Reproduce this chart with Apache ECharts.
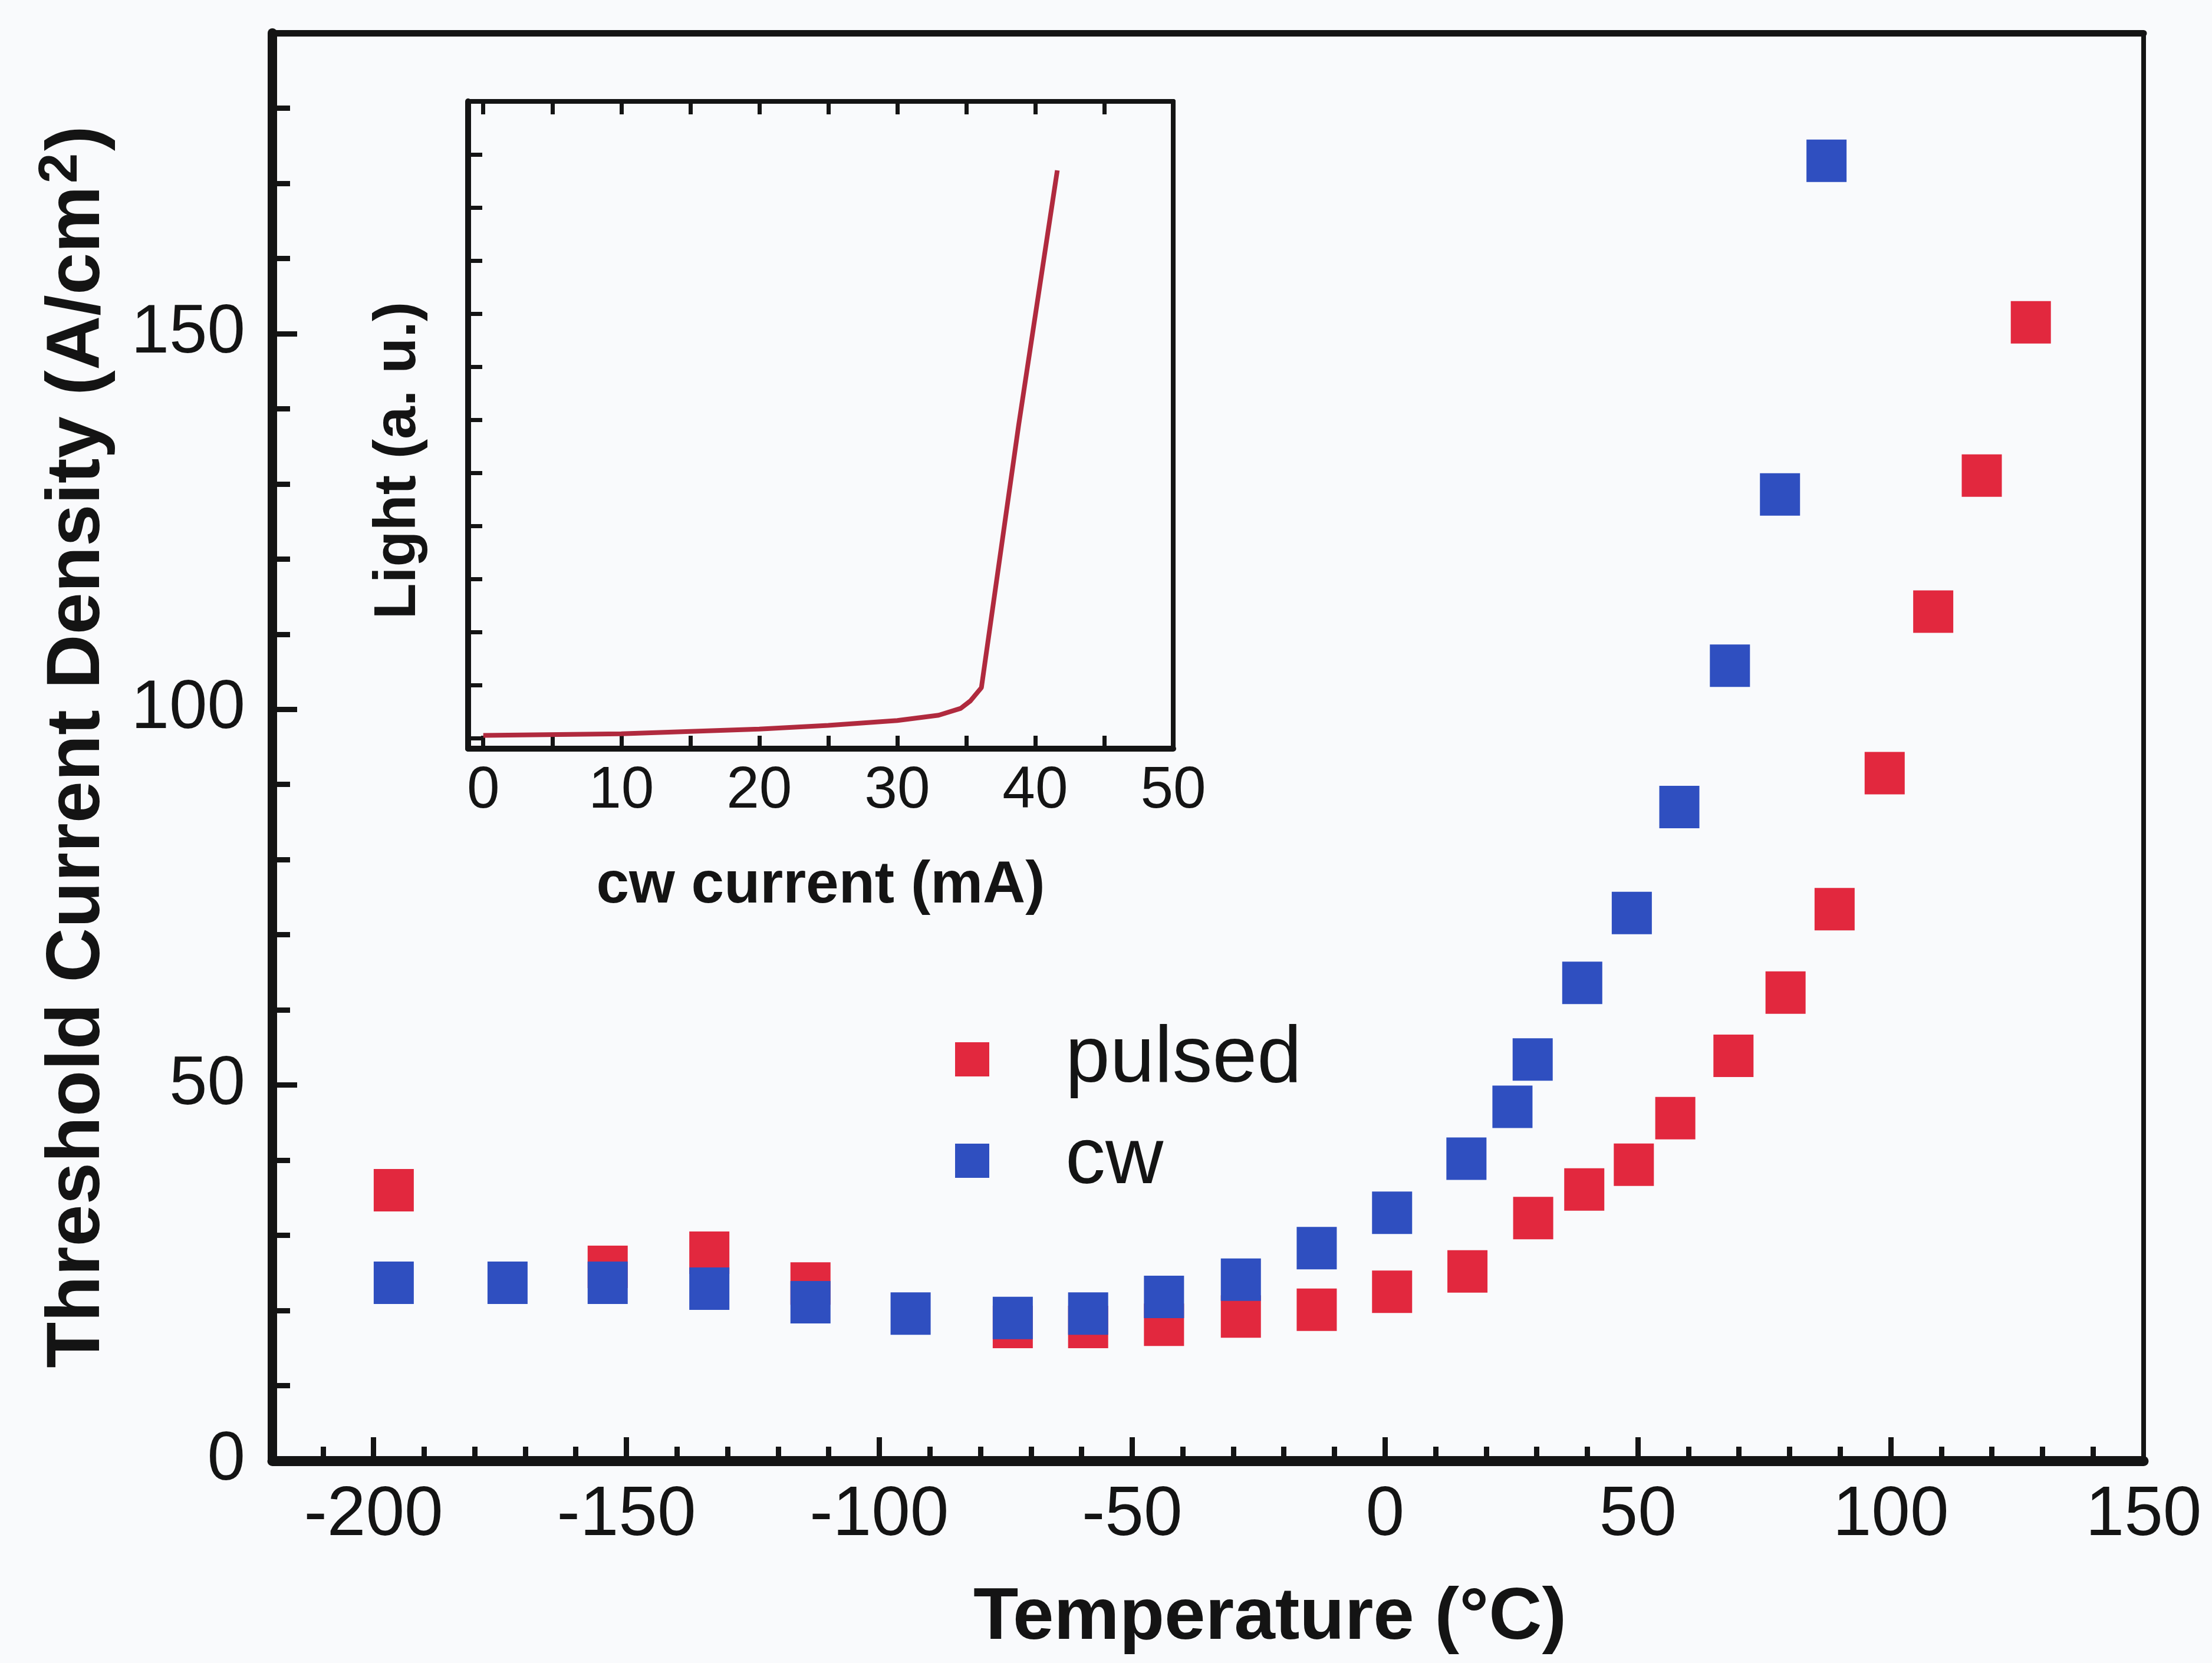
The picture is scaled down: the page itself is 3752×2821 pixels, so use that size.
<!DOCTYPE html>
<html><head><meta charset="utf-8">
<script src="https://cdn.jsdelivr.net/npm/echarts@6/dist/echarts.min.js"></script>
<style>html,body{margin:0;padding:0;background:#f9fafc;}#c{width:3752px;height:2821px;}</style>
</head><body><div id="c"></div>
<script>
// ---- data ----
const pulsedTemp = [-196, -153.7, -133.6, -113.6, -73.6, -58.7, -43.7, -28.5, -13.5, 1.4, 16.3, 29.3, 39.4, 49.2, 57.4, 68.9, 79.2, 88.9, 98.8, 108.4, 118.0, 127.7];
const pulsedJth  = [36.0, 25.8, 27.7, 23.6, 17.8, 17.8, 18.1, 19.2, 20.1, 22.5, 25.2, 32.3, 36.1, 39.4, 45.6, 53.9, 62.3, 73.4, 91.5, 113.0, 131.1, 151.5];
const cwTemp = [-196, -173.5, -153.7, -133.6, -113.6, -93.8, -73.6, -58.7, -43.7, -28.5, -13.5, 1.4, 16.1, 25.2, 29.2, 39.0, 48.8, 58.2, 68.2, 78.1, 87.3];
const cwJth  = [23.7, 23.7, 23.7, 22.9, 21.1, 19.6, 19.0, 19.6, 21.8, 24.1, 28.3, 33.0, 40.2, 47.1, 53.4, 63.6, 72.9, 87.0, 105.8, 128.6, 173.0];
// inset L-I curve
const insetCurrent = [0, 10, 20, 25, 30, 33, 34.6, 35.3, 36.1, 38.8, 41.6];
const insetLight   = [0.05, 0.08, 0.17, 0.24, 0.33, 0.43, 0.56, 0.70, 0.95, 5.9, 10.7];
// tick labels
const xTickLabels = [-200, -150, -100, -50, 0, 50, 100, 150];
const yTickLabels = [0, 50, 100, 150];
const insetXTickLabels = [0, 10, 20, 30, 40, 50];

const xMinor = []; for (let v = -210; v <= 140; v += 10) xMinor.push(v);
const xMajor = [-200, -150, -100, -50, 0, 50, 100];
const yMinor = []; for (let v = 10; v <= 180; v += 10) yMinor.push(v);
const yMajor = [50, 100, 150];
const inXTicks = []; for (let v = 0; v <= 50; v += 5) inXTicks.push(v);
const inYTicks = []; for (let v = 0; v <= 11; v += 1) inYTicks.push(v);

const FONT = 'Liberation Sans, Arial, sans-serif';
const INK = '#141414';
const RED = '#e2283e';
const BLUE = '#2f4fc0';

const zip = (a, b) => a.map((v, i) => [v, b[i]]);

const chart = echarts.init(document.getElementById('c'));
chart.setOption({
  backgroundColor: '#f9fafc',
  animation: false,
  textStyle: { fontFamily: FONT },
  grid: [
    { left: 462, right: 116, top: 56, bottom: 343 },
    { left: 794, right: 1762, top: 172, bottom: 1551, show: true, backgroundColor: '#f9fafc', borderWidth: 0 }
  ],
  legend: {
    data: ['pulsed', 'cw'], orient: 'vertical', left: 1620, top: 1729, padding: 0,
    icon: 'rect', itemWidth: 58, itemHeight: 58, itemGap: 36,
    textStyle: { fontSize: 136, lineHeight: 136, color: INK, fontFamily: FONT, padding: [0, 0, 0, 124] }
  },
  xAxis: [
    { type: 'value', gridIndex: 0, min: -220, max: 150, position: 'bottom', offset: 0,
      axisLine: { show: true, onZero: false, lineStyle: { color: INK, width: 17 } },
      axisTick: { show: true, inside: true, length: 24, customValues: xMinor, lineStyle: { color: INK, width: 9 } },
      axisLabel: { show: true, customValues: xTickLabels, fontSize: 118, margin: 34, color: INK, fontFamily: FONT },
      splitLine: { show: false },
      name: 'Temperature (°C)', nameLocation: 'middle', nameGap: 205,
      nameTextStyle: { fontSize: 125, fontWeight: 'bold', color: INK, fontFamily: FONT, padding: [0, 0, 0, 210] } },
    { type: 'value', gridIndex: 0, min: -220, max: 150, position: 'bottom', offset: 0,
      axisLine: { show: false, onZero: false },
      axisTick: { show: true, inside: true, length: 40, customValues: xMajor, lineStyle: { color: INK, width: 9 } },
      axisLabel: { show: false }, splitLine: { show: false } },
    { type: 'value', gridIndex: 0, min: -220, max: 150, position: 'top', offset: 0,
      axisLine: { show: true, onZero: false, lineStyle: { color: INK, width: 11 } },
      axisTick: { show: false }, axisLabel: { show: false }, splitLine: { show: false } },
    { type: 'value', gridIndex: 1, min: -1.1, max: 50, position: 'bottom', offset: 0,
      axisLine: { show: true, onZero: false, lineStyle: { color: INK, width: 10 } },
      axisTick: { show: true, inside: true, length: 22, customValues: inXTicks, lineStyle: { color: INK, width: 7 } },
      axisLabel: { show: true, customValues: insetXTickLabels, fontSize: 100, margin: 22, color: INK, fontFamily: FONT },
      splitLine: { show: false },
      name: 'cw current (mA)', nameLocation: 'middle', nameGap: 183,
      nameTextStyle: { fontSize: 100, fontWeight: 'bold', color: INK, fontFamily: FONT } },
    { type: 'value', gridIndex: 1, min: -1.1, max: 50, position: 'top', offset: 0,
      axisLine: { show: true, onZero: false, lineStyle: { color: INK, width: 8 } },
      axisTick: { show: true, inside: true, length: 22, customValues: inXTicks, lineStyle: { color: INK, width: 7 } },
      axisLabel: { show: false }, splitLine: { show: false } }
  ],
  yAxis: [
    { type: 'value', gridIndex: 0, min: 0, max: 190, position: 'left', offset: 0,
      axisLine: { show: true, onZero: false, lineStyle: { color: INK, width: 16 } },
      axisTick: { show: true, inside: true, length: 30, customValues: yMinor, lineStyle: { color: INK, width: 9 } },
      axisLabel: { show: true, customValues: yTickLabels, fontSize: 116, margin: 46, color: INK, fontFamily: FONT },
      splitLine: { show: false },
      name: '{a|Threshold Current Density (A/cm}{s|2}{a|)}', nameLocation: 'middle', nameRotate: 90, nameGap: 255,
      nameTextStyle: { color: INK, rich: {
        a: { fontSize: 128, fontWeight: 'bold', color: INK, fontFamily: FONT },
        s: { fontSize: 92, fontWeight: 'bold', color: INK, fontFamily: FONT, verticalAlign: 'top', padding: [0, 4, 56, 4] } } } },
    { type: 'value', gridIndex: 0, min: 0, max: 190, position: 'left', offset: 0,
      axisLine: { show: false, onZero: false },
      axisTick: { show: true, inside: true, length: 42, customValues: yMajor, lineStyle: { color: INK, width: 9 } },
      axisLabel: { show: false }, splitLine: { show: false } },
    { type: 'value', gridIndex: 0, min: 0, max: 190, position: 'right', offset: 0,
      axisLine: { show: true, onZero: false, lineStyle: { color: INK, width: 8 } },
      axisTick: { show: false }, axisLabel: { show: false }, splitLine: { show: false } },
    { type: 'value', gridIndex: 1, min: -0.2, max: 12, position: 'left', offset: 0,
      axisLine: { show: true, onZero: false, lineStyle: { color: INK, width: 10 } },
      axisTick: { show: true, inside: true, length: 24, customValues: inYTicks, lineStyle: { color: INK, width: 7 } },
      axisLabel: { show: false }, splitLine: { show: false },
      name: 'Light (a. u.)', nameLocation: 'middle', nameRotate: 90, nameGap: 68,
      nameTextStyle: { fontSize: 100, fontWeight: 'bold', color: INK, fontFamily: FONT, padding: [0, 120, 0, 0] } },
    { type: 'value', gridIndex: 1, min: -0.2, max: 12, position: 'right', offset: 0,
      axisLine: { show: true, onZero: false, lineStyle: { color: INK, width: 8 } },
      axisTick: { show: false }, axisLabel: { show: false }, splitLine: { show: false } }
  ],
  series: [
    { name: 'pulsed', type: 'scatter', xAxisIndex: 0, yAxisIndex: 0, symbol: 'rect', symbolSize: [68, 72],
      itemStyle: { color: RED, opacity: 1 }, data: zip(pulsedTemp, pulsedJth), z: 3 },
    { name: 'cw', type: 'scatter', xAxisIndex: 0, yAxisIndex: 0, symbol: 'rect', symbolSize: [68, 72],
      itemStyle: { color: BLUE, opacity: 1 }, data: zip(cwTemp, cwJth), z: 4 },
    { name: 'L-I', type: 'line', xAxisIndex: 3, yAxisIndex: 3, showSymbol: false, symbol: 'none',
      lineStyle: { color: '#b02a3e', width: 8 }, data: zip(insetCurrent, insetLight), z: 5 }
  ]
});
</script></body></html>
